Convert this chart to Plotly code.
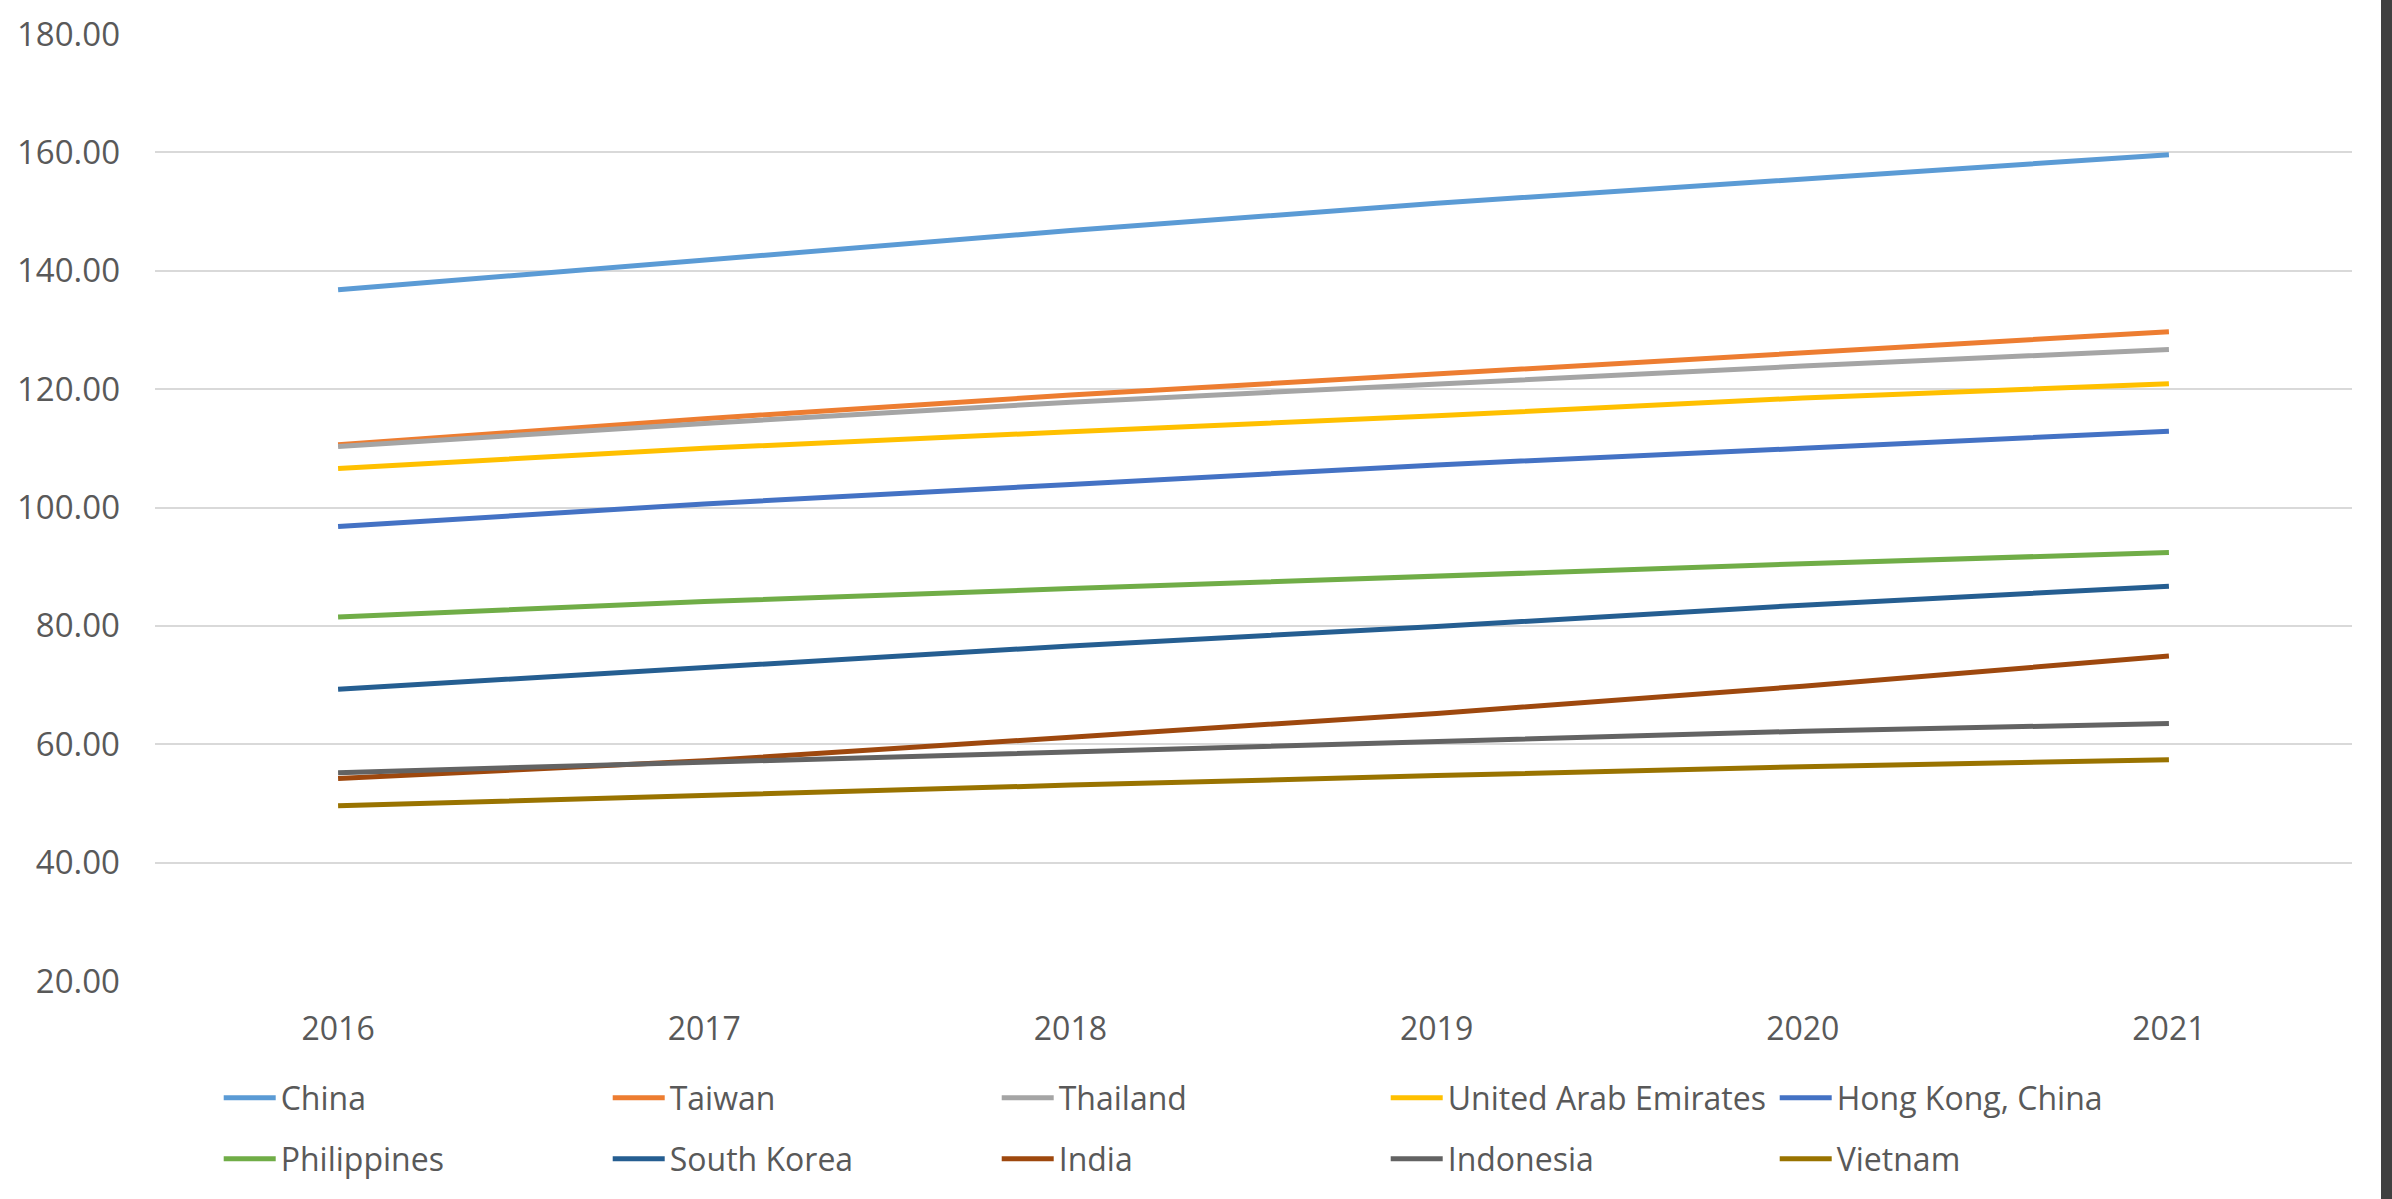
import plotly.graph_objects as go

# Years on the category axis
years = ["2016", "2017", "2018", "2019", "2020", "2021"]

# Index values per economy
china = [136.8, 141.9, 146.8, 151.4, 155.6, 159.6]
taiwan = [110.6, 115.0, 119.0, 122.5, 126.2, 129.7]
thailand = [110.3, 114.2, 117.8, 120.9, 123.9, 126.7]
uae = [106.6, 110.0, 112.8, 115.5, 118.5, 120.9]
hong_kong = [96.8, 100.6, 103.9, 107.2, 110.0, 112.9]
philippines = [81.5, 84.1, 86.3, 88.5, 90.5, 92.4]
south_korea = [69.3, 72.9, 76.6, 79.9, 83.5, 86.7]
india = [54.2, 57.2, 61.2, 65.2, 69.8, 74.9]
indonesia = [55.2, 57.0, 58.8, 60.5, 62.2, 63.5]
vietnam = [49.6, 51.4, 53.1, 54.7, 56.2, 57.4]

series = [
    ("China", china, "#5B9BD5", "legend"),
    ("Taiwan", taiwan, "#ED7D31", "legend"),
    ("Thailand", thailand, "#A5A5A5", "legend"),
    ("United Arab Emirates", uae, "#FFC000", "legend"),
    ("Hong Kong, China", hong_kong, "#4472C4", "legend"),
    ("Philippines", philippines, "#70AD47", "legend2"),
    ("South Korea", south_korea, "#255E91", "legend2"),
    ("India", india, "#9E480E", "legend2"),
    ("Indonesia", indonesia, "#636363", "legend2"),
    ("Vietnam", vietnam, "#997300", "legend2"),
]

FONT = "Open Sans"
TEXT = "#595959"

fig = go.Figure()
for name, vals, color, lg in series:
    fig.add_trace(go.Scatter(
        x=years, y=vals, name=name, mode="lines",
        line=dict(color=color, width=5),
        legend=lg,
    ))

legend_common = dict(
    orientation="h",
    xanchor="left", yanchor="middle",
    x=0.029,
    itemwidth=52,
    entrywidthmode="pixels", entrywidth=322,
    font=dict(family=FONT, size=32, color=TEXT),
    bgcolor="rgba(0,0,0,0)",
    traceorder="normal",
)

fig.update_layout(
    width=2392, height=1199,
    margin=dict(l=155, r=40, t=34, b=218),
    paper_bgcolor="white", plot_bgcolor="white",
    font=dict(family=FONT, color=TEXT),
    showlegend=True,
    legend=dict(legend_common, y=-0.1235),
    legend2=dict(legend_common, y=-0.188),
    xaxis=dict(
        type="category", range=[-0.5, 5.5],
        showgrid=False, showline=False, zeroline=False, ticks="",
        tickfont=dict(family=FONT, size=32, color=TEXT),
        ticklabelstandoff=26,
    ),
    yaxis=dict(
        range=[20, 180], dtick=20, tick0=20, tickformat=".2f",
        showgrid=True, gridcolor="#D9D9D9", gridwidth=2,
        showline=False, zeroline=False, ticks="",
        tickfont=dict(family=FONT, size=33, color=TEXT),
        ticklabelstandoff=34,
    ),
    shapes=[
        dict(type="rect", xref="paper", yref="paper",
             x0=1.0132, x1=1.03, y0=-0.5, y1=1.5,
             fillcolor="#404040", line=dict(width=0), layer="above"),
    ],
)

fig.write_html("out.html")
